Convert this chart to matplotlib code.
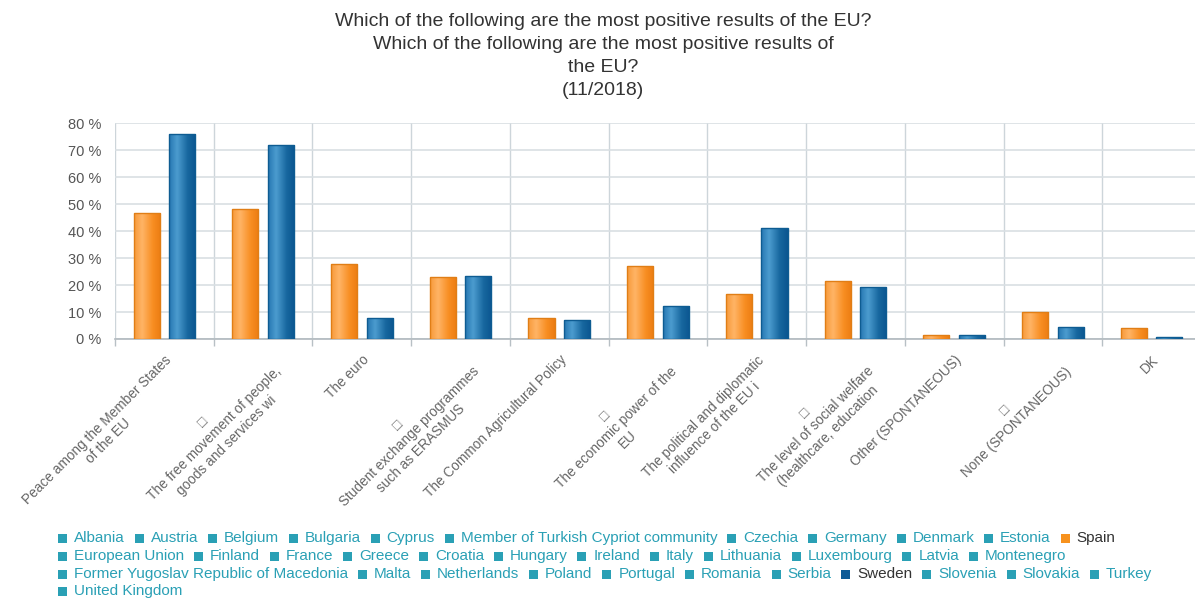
import numpy as np
import matplotlib
matplotlib.use("Agg")
import matplotlib.pyplot as plt
from matplotlib.patches import Rectangle
from matplotlib.colors import LinearSegmentedColormap
from matplotlib.transforms import ScaledTranslation

plt.rcParams['font.family'] = ['Liberation Sans', 'DejaVu Sans']

# ---------------- data ----------------
categories = [
    "Peace among the Member States\nof the EU",
    "\u25a1\nThe free movement of people,\ngoods and services wi",
    "The euro",
    "\u25a1\nStudent exchange programmes\nsuch as ERASMUS",
    "The Common Agricultural Policy",
    "\u25a1\nThe economic power of the\nEU",
    "The political and diplomatic\ninfluence of the EU i",
    "\u25a1\nThe level of social welfare\n(healthcare, education",
    "Other (SPONTANEOUS)",
    "\u25a1\nNone (SPONTANEOUS)",
    "DK",
]
spain = [46.7, 48.2, 27.7, 23.1, 7.7, 27.2, 16.6, 21.5, 1.6, 10.0, 4.0]
sweden = [76.0, 71.9, 7.8, 23.5, 7.2, 12.2, 41.2, 19.3, 1.6, 4.4, 0.7]
yticks = [0, 10, 20, 30, 40, 50, 60, 70, 80]
ytick_labels = ["0 %", "10 %", "20 %", "30 %", "40 %", "50 %", "60 %", "70 %", "80 %"]
title_lines = [
    "Which of the following are the most positive results of the EU?",
    "Which of the following are the most positive results of",
    "the EU?",
    "(11/2018)",
]
legend_rows = [
    ["Albania", "Austria", "Belgium", "Bulgaria", "Cyprus", "Member of Turkish Cypriot community",
     "Czechia", "Germany", "Denmark", "Estonia", "Spain"],
    ["European Union", "Finland", "France", "Greece", "Croatia", "Hungary", "Ireland", "Italy",
     "Lithuania", "Luxembourg", "Latvia", "Montenegro"],
    ["Former Yugoslav Republic of Macedonia", "Malta", "Netherlands", "Poland", "Portugal",
     "Romania", "Serbia", "Sweden", "Slovenia", "Slovakia", "Turkey"],
    ["United Kingdom"],
]
highlight_colors = {"Spain": "#f7921e", "Sweden": "#0d5a96"}

# ---------------- figure ----------------
W, H = 1195, 598
fig = plt.figure(figsize=(W / 100, H / 100), dpi=100)
fig.patch.set_facecolor("white")

ax = fig.add_axes([115 / W, (H - 339) / H, (1201 - 115) / W, (339 - 123.3) / H])
n = len(categories)
x = np.arange(n) + 0.5
off, bw = 0.18, 0.265

orange_cmap = LinearSegmentedColormap.from_list(
    "o", [(0, "#f79a3a"), (0.3, "#ffb466"), (0.7, "#f88e22"), (1, "#ec7c12")])
blue_cmap = LinearSegmentedColormap.from_list(
    "b", [(0, "#2677b2"), (0.3, "#4c9ccf"), (0.7, "#17679f"), (1, "#0b5690")])

grad = np.linspace(0, 1, 64).reshape(1, -1)


def gradient_bars(xs, vals, cmap, edge):
    bars = ax.bar(xs, vals, width=bw, color="none", edgecolor=edge, linewidth=1.0, zorder=4)
    for b in bars:
        bx, by = b.get_x(), b.get_y()
        bwid, bh = b.get_width(), b.get_height()
        im = ax.imshow(grad, cmap=cmap, aspect="auto",
                       extent=[bx, bx + bwid, by, by + bh], zorder=3, interpolation="bicubic")
        im.set_clip_path(b)
    return bars


gradient_bars(x - off, spain, orange_cmap, "#e07e16")
gradient_bars(x + off, sweden, blue_cmap, "#0e5c92")

ax.set_xlim(0, n)
ax.set_ylim(0, 80)

# grid
ax.set_yticks(yticks)
ax.set_yticklabels(ytick_labels)
ax.yaxis.grid(True, color="#d9dfe3", linewidth=1.2, zorder=0)
ax.set_xticks(np.arange(n + 1), minor=True)
ax.xaxis.grid(True, which="minor", color="#cdd5da", linewidth=1.0, zorder=0)
ax.set_xticks(x)
ax.set_xticklabels(categories, rotation=45, ha="right", va="top",
                   rotation_mode="anchor", multialignment="center",
                   fontsize=9.8, color="#666666")
shift = ScaledTranslation(-6 / 100, 1 / 100, fig.dpi_scale_trans)
for lab in ax.get_xticklabels():
    lab.set_transform(lab.get_transform() + shift)
ax.tick_params(axis="x", which="major", length=0, pad=10)
ax.tick_params(axis="x", which="minor", length=5, color="#b8c0c5", width=1.0)
ax.tick_params(axis="y", length=0, pad=10, labelsize=10.5, labelcolor="#555555")
for s in ["top", "right", "left"]:
    ax.spines[s].set_visible(False)
ax.spines["bottom"].set_color("#b0b8bd")
ax.spines["bottom"].set_linewidth(1.2)
ax.set_axisbelow(True)
ax.set_facecolor("white")

# title
for i, line in enumerate(title_lines):
    fig.text(603 / W, 1 - (22 + i * 22.7) / H, line, ha="center", va="center",
             fontsize=14, color="#333333")

# legend (flowed manually)
fig.canvas.draw()
renderer = fig.canvas.get_renderer()
row_y = [538, 556, 574, 591]
sq = 9
for r, row in enumerate(legend_rows):
    cx = 58.0
    yc = row_y[r]
    for name in row:
        col = highlight_colors.get(name, "#2aa0b5")
        tcol = "#333333" if name in highlight_colors else "#2aa0b5"
        fig.patches.append(Rectangle((cx / W, 1 - (yc + sq / 2) / H), sq / W, sq / H,
                                     transform=fig.transFigure, facecolor=col,
                                     edgecolor="none", figure=fig))
        t = fig.text((cx + sq + 7) / W, 1 - yc / H, name, ha="left", va="center",
                     fontsize=11, color=tcol)
        w = t.get_window_extent(renderer).width
        cx += sq + 7 + w + 9.8

fig.savefig("out.png", dpi=100, facecolor="white")
